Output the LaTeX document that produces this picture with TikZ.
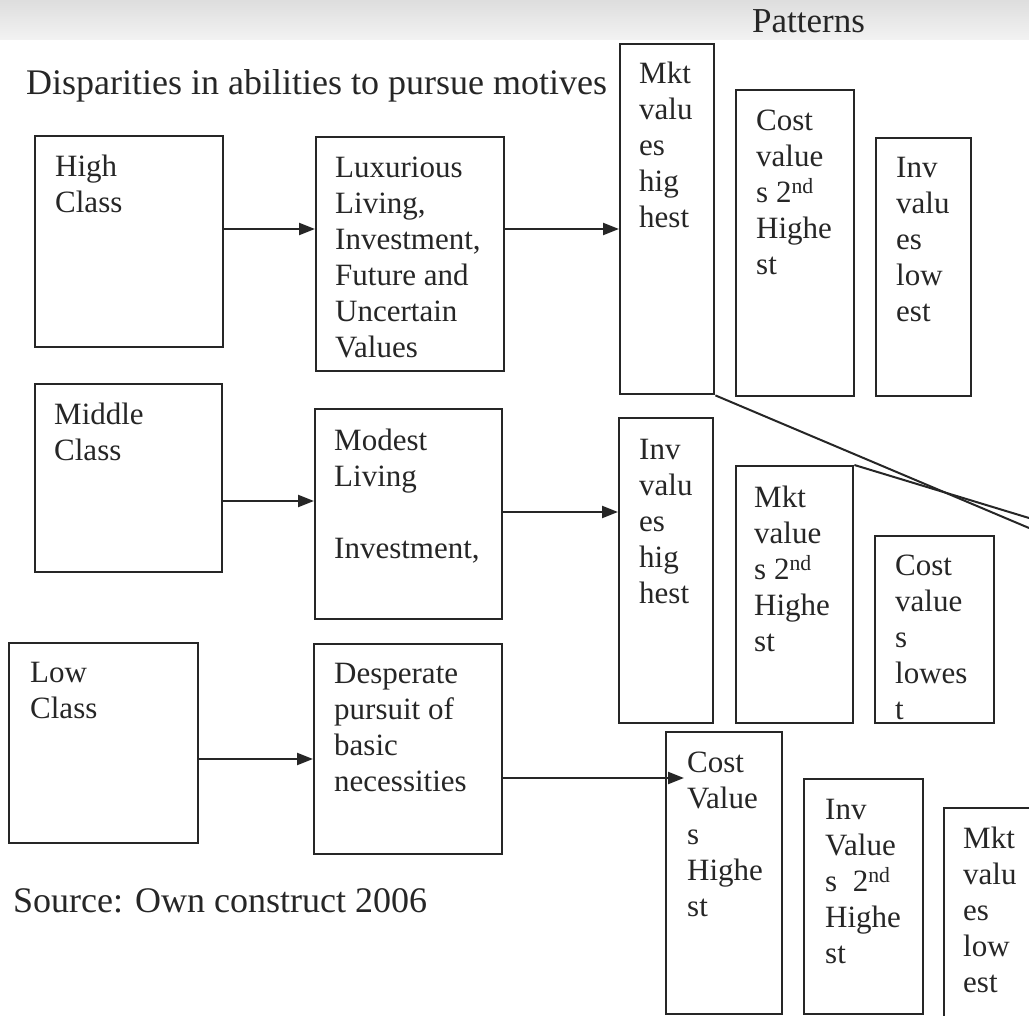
\documentclass[tikz,border=0pt]{standalone}
\usepackage{fontspec}
\setmainfont{Liberation Serif}
\usetikzlibrary{arrows.meta,calc}
\begin{document}
\begin{tikzpicture}[x=1pt,y=-1pt,
  bx/.style={draw=black!85, line width=2.4pt, rectangle, inner sep=0pt, anchor=north west},
  tx/.style={anchor=north west, inner sep=0pt, align=left, font=\fontsize{31}{36}\selectfont, text=black!85},
  big/.style={anchor=base west, inner sep=0pt, font=\fontsize{36}{43}\selectfont, text=black!85},
  arr/.style={draw=black!85, line width=2.2pt, -{Triangle[length=16pt,width=12pt]}},
  ln/.style={draw=black!85, line width=2pt}
]
\useasboundingbox (0,0) rectangle (1029,1016);
\clip (0,0) rectangle (1029,1016);
\shade[top color=black!13, bottom color=black!5] (0,0) rectangle (1029,40);

% titles
\node[big] (title) at (26,95) {Disparities in abilities to pursue motives};
\node[big, font=\fontsize{35}{42}\selectfont] (patt) at (752,33) {Patterns};
\node[big] (src) at (13,912) {Source: Own construct 2006};

% top row
\node[bx, minimum width=188pt, minimum height=211pt] (hi) at (34,135) {};
\node[bx, minimum width=188pt, minimum height=234pt] (lux) at (315,136) {};
\node[bx, minimum width=94pt, minimum height=350pt] (m1) at (619,43) {};
\node[bx, minimum width=118pt, minimum height=306pt] (c1) at (735,89) {};
\node[bx, minimum width=95pt, minimum height=258pt] (i1) at (875,137) {};

% middle row
\node[bx, minimum width=187pt, minimum height=188pt] (mid) at (34,383) {};
\node[bx, minimum width=187pt, minimum height=210pt] (mod) at (314,408) {};
\node[bx, minimum width=94pt, minimum height=305pt] (i2) at (618,417) {};
\node[bx, minimum width=117pt, minimum height=257pt] (m2) at (735,465) {};
\node[bx, minimum width=119pt, minimum height=187pt] (c2) at (874,535) {};

% bottom row
\node[bx, minimum width=189pt, minimum height=200pt] (low) at (8,642) {};
\node[bx, minimum width=188pt, minimum height=210pt] (des) at (313,643) {};
\node[bx, minimum width=116pt, minimum height=282pt] (c3) at (665,731) {};
\node[bx, minimum width=119pt, minimum height=235pt] (i3) at (803,778) {};
\node[bx, minimum width=120pt, minimum height=260pt] (m3) at (943,807) {};

% texts
\node[tx] (hiT) at ($(hi.north west)+(21,20)$) {High\\Class};
\node[tx] (luxT) at ($(lux.north west)+(20,21)$) {Luxurious\\Living,\\Investment,\\Future and\\Uncertain\\Values};
\node[tx] (m1T) at ($(m1.north west)+(20,19)$) {Mkt\\valu\\es\\hig\\hest};
\node[tx] (c1T) at ($(c1.north west)+(21,21)$) {Cost\\value\\s 2\textsuperscript{nd}\\Highe\\st};
\node[tx] (i1T) at ($(i1.north west)+(21,20)$) {Inv\\valu\\es\\low\\est};

\node[tx] (midT) at ($(mid.north west)+(20,20)$) {Middle\\Class};
\node[tx] (modT) at ($(mod.north west)+(20,21)$) {Modest\\Living\\[36pt]Investment,};
\node[tx] (i2T) at ($(i2.north west)+(21,22)$) {Inv\\valu\\es\\hig\\hest};
\node[tx] (m2T) at ($(m2.north west)+(19,21)$) {Mkt\\value\\s 2\textsuperscript{nd}\\Highe\\st};
\node[tx] (c2T) at ($(c2.north west)+(21,20)$) {Cost\\value\\s\\lowes\\t};

\node[tx] (lowT) at ($(low.north west)+(22,20)$) {Low\\Class};
\node[tx] (desT) at ($(des.north west)+(21,20)$) {Desperate\\pursuit of\\basic\\necessities};
\node[tx] (c3T) at ($(c3.north west)+(22,21)$) {Cost\\Value\\s\\Highe\\st};
\node[tx] (i3T) at ($(i3.north west)+(22,21)$) {Inv\\Value\\s~~2\textsuperscript{nd}\\Highe\\st};
\node[tx] (m3T) at ($(m3.north west)+(20,20)$) {Mkt\\valu\\es\\low\\est};

% arrows
\draw[arr] (hi.east |- 0,229) -- (lux.west |- 0,229);
\draw[arr] (lux.east |- 0,229) -- (m1.west |- 0,229);
\draw[arr] (mid.east |- 0,501) -- (mod.west |- 0,501);
\draw[arr] (mod.east |- 0,512) -- (i2.west |- 0,512);
\draw[arr] (low.east |- 0,759) -- (des.west |- 0,759);
\coordinate (c3tip) at (684,778);
\draw[arr] (des.east |- 0,778) -- (c3tip);

% crossing lines
\coordinate (ea) at (1029,528);
\coordinate (eb) at (1029,518);
\draw[ln] (m1.south east) -- (ea);
\draw[ln] (m2.north east) -- (eb);
\end{tikzpicture}
\end{document}
